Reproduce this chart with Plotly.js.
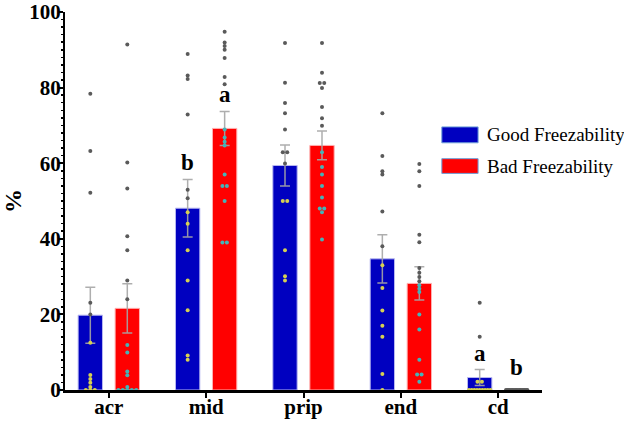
<!DOCTYPE html>
<html>
<head>
<meta charset="utf-8">
<script src="https://cdn.plot.ly/plotly-3.0.1.min.js"></script>
<style>
  html, body { margin: 0; padding: 0; background: #fff; }
  #chart { width: 624px; height: 421px; }
</style>
</head>
<body>
<div id="chart"></div>
<script>
// categorias e valores
var categories = ['acr', 'mid', 'prip', 'end', 'cd'];
var goodMean = [19.8, 48.1, 59.4, 34.7, 3.3];
var badMean = [21.6, 69.2, 64.7, 28.2, 0];
var goodSem = [7.4, 7.6, 5.4, 6.4, 2.1];
var badSem = [6.5, 4.5, 3.8, 4.4, 0];
var goodLetters = ['', 'b', '', '', 'a'];
var badLetters = ['', 'a', '', '', 'b'];

// pontos individuais de cada grupo
var goodPoints = [
  [78.4, 63.2, 52.2, 23.1, 20.0, 12.5, 4.0, 2.9, 1.9, 0.8, 0, 0, 0],
  [88.9, 83.2, 82.3, 72.9, 53.0, 50.7, 47.0, 44.0, 37.0, 29.0, 21.1, 9.1, 8.0],
  [91.8, 81.3, 75.9, 73.2, 68.9, 62.9, 62.9, 59.9, 50.0, 50.0, 37.0, 30.1, 29.0],
  [73.2, 61.9, 57.9, 57.0, 47.2, 38.0, 33.0, 27.0, 21.0, 17.0, 14.1, 4.2, 0],
  [23.1, 14.1, 2.2, 2.2, 0, 0, 0, 0, 0, 0, 0, 0, 0]
];
var badPoints = [
  [91.4, 60.2, 53.3, 40.7, 37.0, 29.0, 24.0, 11.9, 9.9, 4.9, 3.9, 0.8, 0, 0, 0, 0, 0],
  [94.8, 91.9, 91.0, 90.0, 87.8, 82.8, 80.9, 68.9, 66.8, 65.7, 64.7, 57.0, 54.0, 54.0, 50.0, 39.0, 39.0],
  [91.8, 83.9, 81.2, 81.2, 79.9, 74.9, 71.9, 69.9, 62.9, 59.0, 57.0, 54.0, 50.9, 48.0, 48.0, 47.0, 39.8],
  [59.8, 57.9, 54.0, 41.1, 39.1, 32.3, 31.0, 29.9, 28.8, 27.7, 26.8, 25.9, 20.0, 16.0, 8.0, 4.1, 4.1, 2.2],
  [0, 0, 0, 0, 0, 0, 0, 0, 0, 0, 0, 0, 0, 0, 0, 0, 0]
];

var BLUE = '#0000c0';
var RED = '#ff0000';
var SHIFT = 0.19;   // deslocamento de cada barra em relação à categoria
var BARW = 0.25;
var serif = 'Liberation Serif';

var idx = categories.map(function (c, i) { return i; });

// espalha horizontalmente os pontos com valores iguais
function spreadPoints(groups, shift, mean, inColor) {
  var xs = [], ys = [], cols = [];
  groups.forEach(function (vals, i) {
    var count = {};
    vals.forEach(function (v) { count[v] = (count[v] || 0) + 1; });
    var seen = {};
    vals.forEach(function (v) {
      var k = count[v];
      var n = seen[v] || 0;
      seen[v] = n + 1;
      var step = k > 1 ? Math.min(0.046, 0.22 / (k - 1)) : 0;
      xs.push(i + shift + (n - (k - 1) / 2) * step);
      ys.push(v);
      cols.push(v < mean[i] ? inColor : '#5a5a5a');
    });
  });
  return {x: xs, y: ys, color: cols};
}

var gp = spreadPoints(goodPoints, -SHIFT, goodMean, '#d6d052');
var bp = spreadPoints(badPoints, SHIFT, badMean, '#44b4b8');

var errStyle = {type: 'data', visible: true, color: 'rgba(165,165,165,0.9)', thickness: 1.5, width: 5};

var traces = [
  {
    type: 'bar', name: 'Good Freezability',
    x: idx.map(function (i) { return i - SHIFT; }), y: goodMean, width: BARW,
    marker: {color: BLUE, line: {color: '#b8b8f0', width: 1}},
    error_y: Object.assign({array: goodSem}, errStyle),
    hoverinfo: 'skip'
  },
  {
    type: 'bar', name: 'Bad Freezability',
    x: idx.map(function (i) { return i + SHIFT; }), y: badMean, width: BARW,
    marker: {color: RED, line: {color: '#ffb0b0', width: 1}},
    error_y: Object.assign({array: badSem}, errStyle),
    hoverinfo: 'skip'
  },
  {
    type: 'scatter', mode: 'markers', x: gp.x, y: gp.y,
    marker: {size: 4, color: gp.color}, hoverinfo: 'skip', cliponaxis: false
  },
  {
    type: 'scatter', mode: 'markers', x: bp.x, y: bp.y,
    marker: {size: 4, color: bp.color}, hoverinfo: 'skip', cliponaxis: false
  }
];

// letras de significância
var annotations = [];
function addLetters(letters, mean, sem, shift) {
  letters.forEach(function (t, i) {
    if (!t) return;
    annotations.push({
      x: i + shift, y: mean[i] + sem[i], xref: 'x', yref: 'y',
      text: t, showarrow: false, yanchor: 'bottom', yshift: sem[i] > 0 ? 2 : 8,
      font: {family: serif, size: 23, color: '#000', weight: 700}
    });
  });
}
addLetters(goodLetters, goodMean, goodSem, -SHIFT);
addLetters(badLetters, badMean, badSem, SHIFT);

// legenda desenhada à mão (caixas grandes)
var legendItems = [
  {text: 'Good Freezability', color: BLUE, y0: 0.654, y1: 0.696},
  {text: 'Bad Freezability', color: RED, y0: 0.573, y1: 0.612}
];
var shapes = [];
legendItems.forEach(function (it) {
  shapes.push({
    type: 'rect', xref: 'paper', yref: 'paper',
    x0: 0.790, x1: 0.866, y0: it.y0, y1: it.y1,
    fillcolor: it.color, line: {color: '#6f9fd8', width: 1}
  });
  annotations.push({
    xref: 'paper', yref: 'paper', x: 0.880, y: (it.y0 + it.y1) / 2,
    xanchor: 'left', yanchor: 'middle', showarrow: false, text: it.text,
    font: {family: serif, size: 19, color: '#000'}
  });
});

var layout = {
  width: 624, height: 421,
  margin: {l: 65, r: 82, t: 12, b: 31},
  paper_bgcolor: '#fff', plot_bgcolor: '#fff',
  showlegend: false,
  barmode: 'overlay',
  xaxis: {
    range: [-0.45, 4.45], tickvals: idx, ticktext: categories,
    showline: true, linecolor: '#000', linewidth: 2.5,
    ticks: 'outside', ticklen: 5, tickwidth: 2, tickcolor: '#000',
    ticklabelstandoff: -9,
    tickfont: {family: serif, size: 21, color: '#000', weight: 700},
    showgrid: false, zeroline: false, fixedrange: true
  },
  yaxis: {
    range: [0, 100], tickvals: [0, 20, 40, 60, 80, 100],
    showline: true, linecolor: '#000', linewidth: 2,
    ticks: 'outside', ticklen: 4, tickwidth: 2, tickcolor: '#000',
    ticklabelstandoff: -6, ticklabeloverflow: 'allow',
    minor: {dtick: 2, ticks: 'outside', ticklen: 2, tickwidth: 1.5, tickcolor: '#000', showgrid: false},
    tickfont: {family: serif, size: 21, color: '#000', weight: 700},
    title: {text: '%', font: {family: serif, size: 24, color: '#000', weight: 700}, standoff: 6},
    showgrid: false, zeroline: false, fixedrange: true
  },
  shapes: shapes,
  annotations: annotations
};

Plotly.newPlot('chart', traces, layout, {staticPlot: true, displayModeBar: false});
</script>
</body>
</html>
